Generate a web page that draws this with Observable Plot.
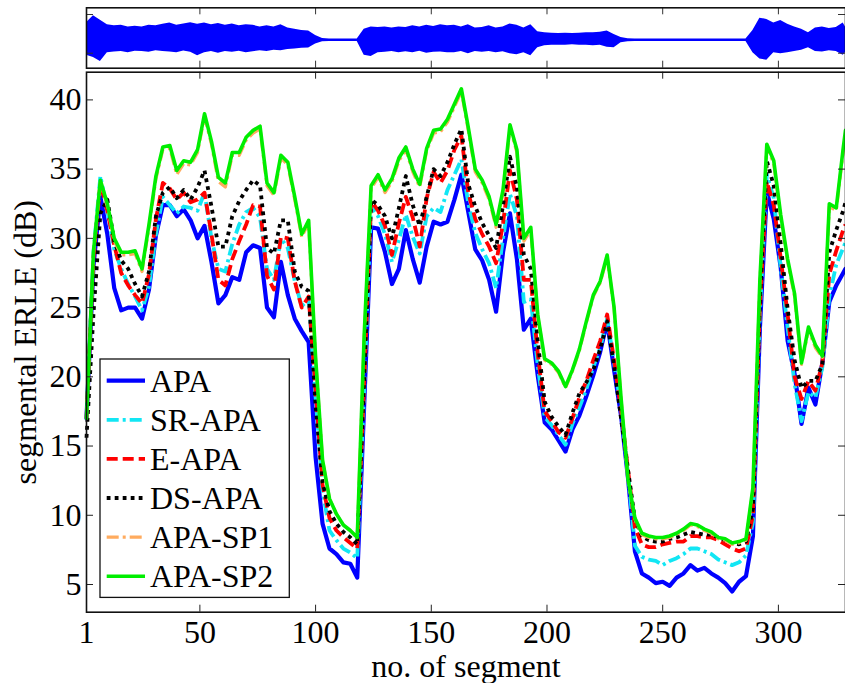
<!DOCTYPE html>
<html>
<head>
<meta charset="utf-8">
<title>Segmental ERLE</title>
<script src="https://cdn.jsdelivr.net/npm/d3@7"></script>
<script src="https://cdn.jsdelivr.net/npm/@observablehq/plot@0.6"></script>
<style>
  html, body { margin: 0; padding: 0; background: #fff; }
  #figure { position: relative; width: 845px; height: 683px; overflow: hidden; }
  #figure > svg { position: absolute; left: 0; top: 0; }
  #figure text { font-family: "Liberation Serif", "Tinos", "DejaVu Serif", "Times New Roman", serif; }
</style>
</head>
<body>
<div id="figure"></div>
<script>
// Segment index at which every curve is sampled
const segments = [
  1, 4, 7, 10, 13, 16, 19, 22, 25, 28,
  31, 34, 37, 40, 43, 46, 49, 52, 55, 58,
  61, 64, 67, 70, 73, 76, 79, 82, 85, 88,
  91, 94, 97, 100, 103, 106, 109, 112, 115, 118,
  121, 124, 127, 130, 133, 136, 139, 142, 145, 148,
  151, 154, 157, 160, 163, 166, 169, 172, 175, 178,
  181, 184, 187, 190, 193, 196, 199, 202, 205, 208,
  211, 214, 217, 220, 223, 226, 229, 232, 235, 238,
  241, 244, 247, 250, 253, 256, 259, 262, 265, 268,
  271, 274, 277, 280, 283, 286, 289, 292, 295, 298,
  301, 304, 307, 310, 313, 316, 319, 322, 325, 328,
  329
];

// Segmental ERLE (dB) of each algorithm
const apa = [
  17.0, 28.0, 33.0, 30.3, 26.4, 24.8, 25.0, 25.0, 24.2, 26.3,
  30.2, 32.4, 32.4, 31.6, 32.1, 31.3, 30.0, 30.9, 28.3, 25.3,
  25.9, 27.2, 27.0, 29.0, 29.5, 29.3, 25.0, 24.3, 28.3, 25.9,
  24.2, 23.3, 22.5, 14.2, 9.4, 7.6, 7.2, 6.6, 6.5, 5.5,
  18.0, 30.8, 30.7, 29.0, 26.7, 27.8, 30.6, 28.5, 26.8, 29.4,
  31.2, 31.0, 31.2, 32.8, 34.6, 31.9, 29.2, 28.4, 27.0, 24.7,
  29.0, 31.8, 28.5, 23.4, 24.2, 20.1, 16.7, 16.2, 15.4, 14.6,
  16.2, 17.2, 18.6, 20.1, 21.8, 24.0, 20.5, 17.2, 12.7, 7.4,
  5.8, 5.5, 5.1, 5.2, 4.9, 5.5, 5.8, 6.4, 6.0, 6.2,
  5.8, 5.5, 5.1, 4.5, 5.2, 5.6, 8.5, 23.5, 33.4, 31.4,
  27.9, 22.6, 20.2, 16.6, 19.2, 18.0, 21.0, 25.4, 26.6, 27.5,
  27.8
];
const srApa = [
  17.0, 29.0, 34.5, 32.0, 29.2, 27.8, 26.7, 25.8, 24.8, 26.5,
  30.3, 33.0, 32.4, 31.8, 32.3, 32.2, 32.0, 33.3, 30.0, 27.8,
  27.6, 29.6, 31.0, 31.9, 32.2, 31.5, 27.8, 27.0, 30.0, 29.3,
  26.9, 25.1, 25.6, 18.6, 11.8, 8.9, 8.2, 7.6, 7.3, 6.9,
  19.0, 32.3, 31.6, 30.3, 28.3, 29.9, 31.7, 30.1, 28.9, 31.6,
  32.2, 31.9, 33.5, 34.6, 35.7, 32.5, 30.4, 29.2, 28.2, 26.4,
  30.0, 33.2, 31.6, 25.4, 25.6, 20.8, 17.1, 16.5, 15.8, 15.1,
  16.6, 17.8, 19.1, 20.7, 22.1, 24.2, 21.0, 17.8, 13.0, 7.8,
  7.0, 6.8, 6.7, 6.4, 6.7, 6.9, 7.2, 7.6, 7.6, 7.4,
  7.2, 6.8, 6.6, 6.4, 6.6, 7.1, 9.5, 24.5, 34.6, 32.9,
  27.9, 23.5, 19.5, 16.8, 18.9, 18.5, 20.7, 25.8, 28.1, 29.3,
  29.7
];
const eApa = [
  17.0, 28.5, 34.0, 32.0, 29.5, 27.5, 26.6, 25.9, 25.3, 27.4,
  31.4, 34.0, 33.6, 32.8, 33.3, 32.6, 32.8, 33.3, 30.3, 27.0,
  26.6, 28.5, 29.8, 31.0, 32.4, 32.3, 27.3, 26.3, 30.1, 30.0,
  26.9, 25.0, 25.8, 19.0, 12.2, 9.8, 8.9, 8.4, 8.0, 7.6,
  19.5, 32.7, 32.0, 30.9, 28.8, 31.1, 33.0, 31.5, 29.4, 32.9,
  34.8, 34.0, 34.9, 36.4, 37.4, 33.3, 31.4, 30.3, 29.4, 28.2,
  31.1, 34.9, 32.8, 27.0, 27.0, 21.7, 17.5, 16.8, 16.0, 15.6,
  17.0, 18.5, 19.7, 21.2, 22.6, 24.5, 21.2, 17.6, 13.3, 9.1,
  7.9, 7.7, 7.7, 7.9, 8.0, 8.1, 8.1, 8.5, 8.5, 8.4,
  8.4, 8.2, 7.9, 7.6, 7.4, 7.6, 10.0, 25.0, 34.1, 32.4,
  28.6, 24.5, 20.0, 18.4, 19.7, 19.0, 21.0, 27.4, 29.1, 30.6,
  31.0
];
const dsApa = [
  15.6, 24.5, 31.8, 32.8, 29.8, 28.4, 27.8, 26.7, 25.8, 27.6,
  31.6, 33.3, 33.7, 32.9, 33.5, 32.8, 33.7, 34.9, 32.3, 29.4,
  29.4, 31.6, 32.7, 33.5, 34.2, 33.8, 29.3, 28.9, 31.3, 31.3,
  27.6, 26.5, 26.2, 17.9, 12.4, 10.3, 9.4, 8.8, 8.4, 7.9,
  20.0, 32.8, 32.4, 31.6, 30.0, 32.2, 34.5, 32.4, 30.9, 33.0,
  35.0, 34.5, 35.5, 36.8, 37.9, 33.9, 32.3, 31.1, 30.2, 29.3,
  32.4, 35.9, 33.7, 28.8, 27.8, 22.6, 18.2, 17.1, 16.4, 15.8,
  17.4, 18.8, 19.6, 20.5, 22.0, 24.0, 20.8, 17.0, 13.3, 9.7,
  8.5, 8.2, 8.1, 8.1, 8.3, 8.4, 8.6, 8.8, 8.7, 8.6,
  8.6, 8.4, 8.2, 8.0, 7.9, 8.1, 10.5, 25.5, 35.6, 33.8,
  29.6, 24.9, 21.2, 19.2, 19.7, 19.7, 20.9, 29.0, 30.6, 32.0,
  32.6
];
const apaSp1 = [
  17.0, 28.9, 34.1, 32.3, 29.8, 28.8, 28.8, 28.9, 27.6, 30.8,
  34.3, 36.4, 36.5, 34.6, 35.4, 35.3, 36.2, 38.8, 36.8, 34.1,
  33.7, 36.0, 36.0, 37.1, 37.6, 37.9, 33.8, 33.1, 35.8, 35.3,
  32.8, 30.1, 31.1, 21.3, 14.0, 11.2, 10.1, 9.3, 8.9, 8.4,
  22.8, 33.6, 34.4, 33.3, 34.1, 35.6, 36.4, 34.8, 33.7, 36.3,
  37.6, 37.7, 38.4, 39.5, 40.6, 37.8, 34.8, 34.0, 32.8, 30.8,
  33.3, 38.0, 36.2, 29.8, 30.6, 24.4, 21.2, 20.9, 20.3, 19.2,
  20.4, 21.9, 23.9, 25.8, 26.8, 28.6, 24.9, 18.4, 12.5, 9.7,
  8.6, 8.4, 8.3, 8.3, 8.4, 8.6, 8.9, 9.3, 9.2, 8.9,
  8.7, 8.3, 8.2, 7.9, 8.0, 8.2, 11.8, 26.8, 36.6, 35.4,
  31.5, 28.3, 25.8, 20.9, 23.4, 22.1, 21.4, 32.3, 32.0, 36.3,
  37.6
];
const apaSp2 = [
  17.0, 29.0, 34.2, 32.5, 30.0, 29.0, 29.0, 29.1, 27.8, 31.0,
  34.5, 36.6, 36.7, 34.9, 35.6, 35.5, 36.4, 39.0, 37.0, 34.4,
  34.0, 36.2, 36.2, 37.3, 37.8, 38.1, 34.0, 33.3, 36.0, 35.5,
  33.0, 30.3, 31.3, 21.4, 14.0, 11.2, 10.1, 9.3, 8.9, 8.4,
  23.0, 33.8, 34.6, 33.5, 34.3, 35.8, 36.6, 35.0, 33.9, 36.5,
  37.8, 37.9, 38.6, 39.7, 40.8, 38.0, 35.0, 34.2, 33.0, 31.0,
  33.5, 38.2, 36.4, 30.0, 30.8, 24.5, 21.3, 21.0, 20.4, 19.3,
  20.5, 22.0, 24.0, 25.9, 26.9, 28.8, 25.0, 18.5, 12.6, 9.8,
  8.7, 8.5, 8.4, 8.4, 8.5, 8.7, 9.0, 9.4, 9.3, 9.0,
  8.8, 8.4, 8.3, 8.0, 8.1, 8.3, 12.0, 27.0, 36.8, 35.6,
  31.7, 28.5, 26.0, 21.0, 23.6, 22.3, 21.5, 32.5, 32.2, 36.5,
  37.8
];

// Far-end speech amplitude envelope (upper and lower), same segment grid
const speechUpper = [
  0.68, 0.95, 0.78, 0.6, 0.56, 0.58, 0.52, 0.55, 0.52, 0.58,
  0.56, 0.62, 0.67, 0.58, 0.63, 0.68, 0.62, 0.67, 0.6, 0.65,
  0.58, 0.63, 0.56, 0.6, 0.58, 0.52, 0.56, 0.52, 0.6, 0.48,
  0.43, 0.38, 0.36, 0.19, 0.07, 0.05, 0.05, 0.05, 0.05, 0.05,
  0.43, 0.52, 0.5, 0.52, 0.48, 0.52, 0.5, 0.56, 0.52, 0.58,
  0.54, 0.6, 0.56, 0.58, 0.52, 0.6, 0.48, 0.5, 0.56, 0.48,
  0.52, 0.63, 0.58, 0.48, 0.6, 0.33, 0.29, 0.27, 0.26, 0.27,
  0.26, 0.27, 0.29, 0.29, 0.31, 0.36, 0.23, 0.11, 0.06, 0.05,
  0.05, 0.05, 0.05, 0.05, 0.05, 0.05, 0.05, 0.05, 0.05, 0.05,
  0.05, 0.05, 0.05, 0.05, 0.05, 0.05, 0.38, 0.86, 0.81, 0.67,
  0.77, 0.62, 0.52, 0.43, 0.29, 0.48, 0.52, 0.46, 0.5, 0.67,
  0.52
];
const speechLower = [
  -0.58, -0.67, -0.82, -0.48, -0.45, -0.43, -0.48, -0.42, -0.43, -0.46,
  -0.4, -0.43, -0.45, -0.48, -0.41, -0.46, -0.6, -0.48, -0.43, -0.5,
  -0.43, -0.46, -0.42, -0.48, -0.44, -0.4, -0.43, -0.38, -0.4, -0.36,
  -0.34, -0.31, -0.3, -0.14, -0.06, -0.05, -0.05, -0.05, -0.05, -0.05,
  -0.58, -0.63, -0.48, -0.46, -0.43, -0.48, -0.44, -0.48, -0.42, -0.5,
  -0.46, -0.45, -0.48, -0.48, -0.43, -0.52, -0.43, -0.46, -0.43, -0.48,
  -0.44, -0.52, -0.56, -0.48, -0.6, -0.29, -0.21, -0.19, -0.19, -0.19,
  -0.17, -0.19, -0.19, -0.21, -0.19, -0.27, -0.29, -0.09, -0.06, -0.05,
  -0.05, -0.05, -0.05, -0.05, -0.05, -0.05, -0.05, -0.05, -0.05, -0.05,
  -0.05, -0.05, -0.05, -0.05, -0.05, -0.05, -0.48, -0.72, -0.77, -0.48,
  -0.52, -0.48, -0.43, -0.38, -0.29, -0.43, -0.45, -0.4, -0.43, -0.58,
  -0.48
];

const methodNames = ["APA", "SR-APA", "E-APA", "DS-APA", "APA-SP1", "APA-SP2"];
const xTickValues = [1, 50, 100, 150, 200, 250, 300];
const yTickValues = [5, 10, 15, 20, 25, 30, 35, 40];
const speechTickValues = [-0.5, 1];
const xLabel = "no. of segment";
const yLabel = "segmental ERLE (dB)";

const FONT = "\"Liberation Serif\", \"Tinos\", \"DejaVu Serif\", \"Times New Roman\", serif";
const FONT_SIZE = 32;

// line style of each method, in drawing order
const curves = [
  {values: apa,    stroke: "#0000ff", width: 4.2, dash: null},
  {values: srApa,  stroke: "#12e6f4", width: 3.8, dash: "12,4,3,4"},
  {values: eApa,   stroke: "#ff0000", width: 3.8, dash: "11,5"},
  {values: dsApa,  stroke: "#000000", width: 3.8, dash: "3.8,4.2"},
  {values: apaSp1, stroke: "#ffab5e", width: 3.2, dash: "12,4,3,4"},
  {values: apaSp2, stroke: "#00ee00", width: 3.6, dash: null}
];

const W = 845, H = 683;
const M = {top: 71.7, right: 0, bottom: 71.3, left: 86};
const frameW = W - M.left - M.right;
const frameH = H - M.top - M.bottom;
const tickLen = 7;
const xDomain = [1, 329];
const innerXTicks = xTickValues.filter(d => d > xDomain[0]);

const figure = document.getElementById("figure");

// ---- speech waveform strip ----
const SH = 70, SM = {top: 7.3, bottom: 2.3};
const stripH = SH - SM.top - SM.bottom;
const speech = Plot.plot({
  width: W, height: SH,
  marginTop: SM.top, marginBottom: SM.bottom, marginLeft: M.left, marginRight: M.right,
  style: {background: "white"},
  x: {domain: xDomain, axis: null},
  y: {domain: [-1.08, 1.26], axis: null},
  marks: [
    Plot.areaY(speechUpper, {x: segments, y1: speechLower, y2: speechUpper, fill: "#0000ff"}),
    Plot.tickX(innerXTicks, {insetBottom: stripH - tickLen, stroke: "#333"}),
    Plot.tickX(innerXTicks, {insetTop: stripH - tickLen, stroke: "#333"}),
    Plot.tickY(speechTickValues, {insetRight: frameW - tickLen, stroke: "#333"}),
    Plot.tickY(speechTickValues, {insetLeft: frameW - tickLen, stroke: "#333"}),
    Plot.frame({stroke: "#111", strokeWidth: 1.6})
  ]
});
figure.appendChild(speech);

// ---- segmental ERLE curves ----
const main = Plot.plot({
  width: W, height: H,
  marginTop: M.top, marginRight: M.right, marginBottom: M.bottom, marginLeft: M.left,
  style: {background: "transparent", fontFamily: FONT, fontSize: FONT_SIZE + "px", color: "black"},
  x: {domain: xDomain},
  y: {domain: [3, 42]},
  marks: [
    ...curves.map(c => Plot.line(c.values, {
      x: segments, y: c.values,
      stroke: c.stroke, strokeWidth: c.width,
      strokeDasharray: c.dash,
      strokeLinejoin: "round",
      strokeLinecap: c.dash ? "butt" : "round"
    })),
    Plot.tickX(innerXTicks, {insetTop: frameH - tickLen, stroke: "#222"}),
    Plot.tickX(innerXTicks, {insetBottom: frameH - tickLen, stroke: "#222"}),
    Plot.tickY(yTickValues, {insetRight: frameW - tickLen, stroke: "#222"}),
    Plot.tickY(yTickValues, {insetLeft: frameW - tickLen, stroke: "#222"}),
    Plot.frame({stroke: "#111", strokeWidth: 1.6}),
    Plot.axisX(xTickValues, {tickSize: 0, tickPadding: 8, label: null, fontSize: FONT_SIZE}),
    Plot.axisY(yTickValues, {tickSize: 0, tickPadding: 5, label: null, fontSize: FONT_SIZE}),
    Plot.text([xLabel], {frameAnchor: "bottom", dy: 55, textAnchor: "middle", lineAnchor: "middle", fontSize: FONT_SIZE}),
    Plot.text([yLabel], {frameAnchor: "left", dx: -61, rotate: -90, textAnchor: "middle", lineAnchor: "middle", fontSize: FONT_SIZE})
  ]
});
figure.appendChild(main);

// ---- legend box ----
const L = {left: 100, top: 359.3, width: 189.3, height: 238.4, rowTop: 21.7, rowStep: 39.1, lineX1: 6.7, lineX2: 45, textX: 50};
const legend = d3.create("svg")
  .attr("width", L.width + 2)
  .attr("height", L.height + 2)
  .style("left", (L.left - 1) + "px")
  .style("top", (L.top - 1) + "px")
  .style("font-size", FONT_SIZE + "px");
legend.append("rect")
  .attr("x", 1).attr("y", 1)
  .attr("width", L.width).attr("height", L.height)
  .attr("fill", "white").attr("stroke", "#111").attr("stroke-width", 1.3);
methodNames.forEach((name, i) => {
  const c = curves[i];
  const cy = 1 + L.rowTop + i * L.rowStep;
  legend.append("line")
    .attr("x1", 1 + L.lineX1).attr("x2", 1 + L.lineX2)
    .attr("y1", cy).attr("y2", cy)
    .attr("stroke", c.stroke).attr("stroke-width", c.width)
    .attr("stroke-dasharray", c.dash)
    .attr("stroke-linecap", "butt");
  legend.append("text")
    .attr("x", 1 + L.textX).attr("y", cy).attr("dy", "0.34em")
    .attr("fill", "black")
    .style("font-size", FONT_SIZE + "px")
    .text(name);
});
figure.appendChild(legend.node());
</script>
</body>
</html>
